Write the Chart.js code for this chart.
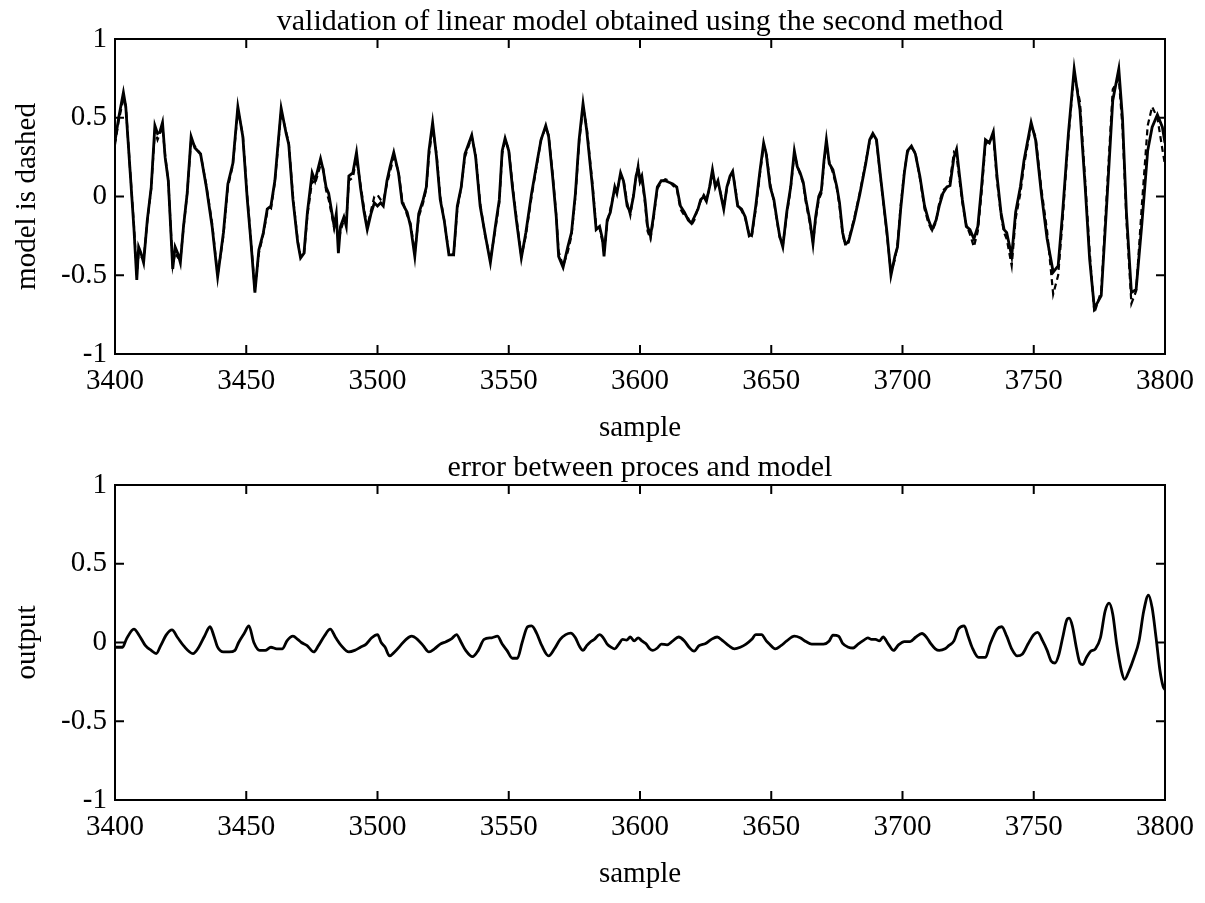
<!DOCTYPE html>
<html>
<head>
<meta charset="utf-8">
<script src="https://cdn.jsdelivr.net/npm/chart.js@4/dist/chart.umd.min.js"></script>
<style>
  html, body { margin: 0; padding: 0; background: #ffffff; }
  #wrap { position: relative; width: 1205px; height: 903px; background: #fff; }
  canvas { position: absolute; left: 0; }
</style>
</head>
<body>
<div id="wrap">
  <canvas id="c1" width="1205" height="450" style="top:0px"></canvas>
  <canvas id="c2" width="1205" height="453" style="top:450px"></canvas>
</div>
<script>
// ---------------- data ----------------
const topTitle = "validation of linear model obtained using the second method";
const bottomTitle = "error between proces and model";
const xAxisTitle = "sample";
const topYTitle = "model is dashed";
const bottomYTitle = "output";
const xTicks = [3400, 3450, 3500, 3550, 3600, 3650, 3700, 3750, 3800];
const yTicks = [-1, -0.5, 0, 0.5, 1];

// process (solid) and model (dashed) share the sample positions
const processX = [
  3400.0,3401.4,3403.2,3404.1,3405.8,3407.2,3408.3,3409.0,3409.9,3410.9,3412.3,3413.8,3415.2,3416.2,3417.1,3418.1,3419.1,3420.3,
  3422.0,3422.9,3424.1,3424.9,3426.1,3427.5,3429.0,3430.4,3432.6,3434.8,3437.0,3439.1,3441.3,3443.0,3444.9,3446.8,3448.7,3450.4,
  3451.7,3453.3,3454.8,3456.5,3458.0,3459.4,3460.9,3463.3,3465.2,3466.2,3467.8,3469.6,3470.7,3472.0,3473.3,3475.1,3476.2,3478.3,
  3479.3,3480.4,3481.4,3482.6,3483.5,3484.3,3485.1,3485.9,3487.2,3488.1,3489.1,3490.6,3492.0,3493.5,3494.9,3496.1,3497.5,3498.8,
  3500.0,3501.2,3502.2,3503.6,3504.8,3506.2,3508.0,3509.4,3511.3,3512.6,3514.2,3515.7,3517.4,3518.6,3519.6,3521.0,3522.5,3523.9,
  3525.4,3527.2,3529.0,3530.4,3531.9,3533.3,3535.9,3537.4,3539.1,3540.9,3543.0,3544.9,3546.4,3547.5,3548.6,3550.0,3551.4,3552.9,
  3554.8,3556.5,3558.7,3560.9,3562.3,3564.1,3565.2,3566.7,3568.1,3569.0,3570.7,3572.5,3573.9,3575.4,3576.8,3578.3,3579.7,3581.9,
  3583.3,3584.6,3585.7,3586.3,3587.5,3588.7,3590.4,3591.2,3592.6,3593.7,3595.1,3596.3,3597.5,3598.5,3599.3,3600.0,3600.7,3601.9,
  3602.9,3604.0,3605.1,3606.6,3608.1,3609.6,3611.0,3612.5,3614.0,3615.4,3616.9,3618.4,3619.6,3620.7,3622.1,3623.1,3624.3,3625.3,
  3626.5,3627.6,3628.7,3629.7,3630.9,3631.9,3633.1,3634.3,3635.3,3636.0,3637.2,3638.7,3640.1,3641.6,3642.6,3644.1,3645.6,3647.1,
  3648.1,3649.6,3651.0,3652.2,3653.2,3654.4,3655.9,3657.4,3658.8,3659.9,3661.0,3662.2,3663.2,3664.7,3665.9,3666.9,3668.1,3669.1,
  3670.1,3671.0,3672.1,3673.5,3675.0,3676.0,3677.2,3678.2,3679.4,3681.6,3683.8,3686.0,3687.5,3688.7,3690.1,3691.6,3693.4,3694.1,
  3695.6,3697.1,3698.1,3699.3,3700.7,3701.9,3703.4,3704.9,3706.6,3708.4,3709.9,3711.3,3712.8,3714.0,3715.4,3716.9,3718.1,3719.6,
  3720.6,3721.6,3722.8,3724.3,3725.7,3727.2,3728.7,3730.1,3731.6,3733.1,3734.6,3736.0,3737.5,3738.7,3739.7,3741.6,3743.1,3744.9,
  3746.3,3749.0,3750.7,3752.9,3755.1,3757.4,3759.3,3761.0,3763.2,3765.4,3767.6,3769.6,3771.3,3773.1,3775.7,3777.9,3780.1,3782.4,
  3783.8,3785.3,3787.2,3789.0,3791.2,3793.4,3795.1,3797.1,3799.0,3800.0
];
const processY = [
  0.35,0.50,0.66,0.57,0.15,-0.20,-0.53,-0.32,-0.36,-0.42,-0.15,0.06,0.45,0.40,0.41,0.47,0.25,0.10,
  -0.46,-0.32,-0.37,-0.42,-0.19,0.02,0.38,0.31,0.27,0.06,-0.19,-0.51,-0.23,0.08,0.21,0.57,0.38,-0.02,
  -0.27,-0.61,-0.34,-0.23,-0.08,-0.06,0.10,0.56,0.40,0.33,-0.02,-0.29,-0.39,-0.36,-0.10,0.15,0.10,0.24,
  0.17,0.06,0.02,-0.10,-0.19,-0.11,-0.36,-0.19,-0.13,-0.19,0.13,0.15,0.28,0.06,-0.10,-0.21,-0.11,-0.04,
  -0.06,-0.04,-0.06,0.10,0.19,0.28,0.15,-0.04,-0.10,-0.19,-0.38,-0.11,-0.02,0.06,0.29,0.47,0.25,-0.02,
  -0.15,-0.37,-0.37,-0.06,0.06,0.27,0.39,0.25,-0.06,-0.23,-0.42,-0.19,-0.02,0.29,0.37,0.29,0.06,-0.15,
  -0.39,-0.23,0.02,0.23,0.36,0.45,0.38,0.13,-0.13,-0.38,-0.45,-0.32,-0.23,0.02,0.36,0.59,0.42,0.06,
  -0.21,-0.19,-0.27,-0.38,-0.15,-0.10,0.06,0.02,0.15,0.10,-0.06,-0.10,0.00,0.13,0.18,0.10,0.13,-0.02,
  -0.19,-0.25,-0.13,0.06,0.10,0.10,0.09,0.08,0.06,-0.06,-0.10,-0.15,-0.17,-0.13,-0.08,-0.02,0.00,-0.03,
  0.06,0.17,0.06,0.10,0.00,-0.08,0.06,0.13,0.16,0.08,-0.06,-0.08,-0.13,-0.25,-0.24,-0.06,0.15,0.34,
  0.27,0.06,-0.02,-0.15,-0.25,-0.32,-0.10,0.06,0.29,0.19,0.15,0.09,-0.02,-0.15,-0.30,-0.13,0.00,0.04,
  0.23,0.36,0.21,0.17,0.06,-0.04,-0.23,-0.30,-0.29,-0.15,0.02,0.21,0.36,0.40,0.36,0.13,-0.13,-0.23,
  -0.50,-0.38,-0.32,-0.08,0.15,0.29,0.32,0.27,0.13,-0.06,-0.15,-0.21,-0.15,-0.06,0.02,0.06,0.07,0.25,
  0.30,0.15,-0.02,-0.19,-0.21,-0.27,-0.19,0.06,0.36,0.34,0.41,0.13,-0.10,-0.21,-0.23,-0.38,-0.10,0.06,
  0.23,0.47,0.36,0.02,-0.27,-0.48,-0.44,-0.10,0.40,0.81,0.55,0.06,-0.40,-0.71,-0.63,-0.02,0.61,0.81,
  0.50,-0.10,-0.61,-0.59,-0.17,0.29,0.44,0.52,0.44,0.34
];
const modelY = [
  0.33,0.48,0.62,0.58,0.16,-0.18,-0.50,-0.36,-0.38,-0.40,-0.16,0.05,0.42,0.36,0.40,0.44,0.26,0.10,
  -0.44,-0.36,-0.39,-0.40,-0.20,0.02,0.36,0.32,0.27,0.07,-0.17,-0.50,-0.25,0.06,0.20,0.55,0.39,0.00,
  -0.26,-0.60,-0.36,-0.24,-0.10,-0.08,0.09,0.54,0.41,0.34,0.00,-0.28,-0.38,-0.37,-0.12,0.10,0.08,0.20,
  0.18,0.04,-0.02,-0.12,-0.20,-0.15,-0.30,-0.22,-0.15,-0.16,0.10,0.12,0.24,0.08,-0.08,-0.19,-0.09,0.00,
  0.01,-0.02,-0.03,0.08,0.16,0.25,0.16,-0.02,-0.12,-0.17,-0.36,-0.13,-0.04,0.05,0.26,0.44,0.27,0.00,
  -0.15,-0.36,-0.37,-0.08,0.06,0.25,0.38,0.26,-0.04,-0.24,-0.40,-0.21,-0.04,0.27,0.36,0.30,0.08,-0.13,
  -0.38,-0.25,0.00,0.22,0.36,0.44,0.39,0.15,-0.12,-0.35,-0.44,-0.35,-0.25,0.00,0.34,0.57,0.44,0.08,
  -0.19,-0.20,-0.29,-0.36,-0.17,-0.08,0.05,0.03,0.13,0.11,-0.04,-0.12,0.01,0.12,0.20,0.09,0.12,-0.04,
  -0.22,-0.27,-0.15,0.05,0.09,0.11,0.10,0.07,0.05,-0.08,-0.12,-0.14,-0.18,-0.15,-0.07,-0.03,0.01,-0.02,
  0.05,0.15,0.07,0.09,0.01,-0.07,0.05,0.12,0.15,0.09,-0.05,-0.09,-0.14,-0.24,-0.25,-0.08,0.13,0.32,
  0.28,0.08,-0.03,-0.16,-0.26,-0.31,-0.12,0.05,0.27,0.20,0.14,0.08,-0.04,-0.17,-0.29,-0.15,-0.02,0.02,
  0.21,0.34,0.22,0.15,0.05,-0.06,-0.24,-0.31,-0.28,-0.14,0.03,0.22,0.35,0.39,0.35,0.12,-0.14,-0.25,
  -0.48,-0.40,-0.30,-0.06,0.16,0.28,0.31,0.28,0.12,-0.08,-0.17,-0.22,-0.16,-0.04,0.04,0.06,0.10,0.28,
  0.26,0.12,-0.04,-0.18,-0.24,-0.32,-0.22,0.02,0.33,0.36,0.38,0.10,-0.12,-0.23,-0.27,-0.44,-0.14,0.02,
  0.20,0.45,0.38,0.05,-0.22,-0.62,-0.50,-0.15,0.38,0.78,0.60,0.10,-0.35,-0.74,-0.60,0.04,0.68,0.75,
  0.44,-0.15,-0.68,-0.60,-0.05,0.45,0.57,0.50,0.30,0.20
];

// prediction error
const errorX = [
  3400.0,3402.9,3404.3,3407.2,3409.4,3411.6,3413.8,3415.7,3417.4,3419.6,3421.7,3423.9,3426.1,3429.7,3431.9,3434.1,3436.2,3437.7,
  3439.1,3441.3,3443.5,3445.7,3447.1,3449.3,3451.0,3452.9,3455.1,3457.2,3459.4,3461.6,3463.8,3465.5,3467.8,3469.6,3471.0,3473.2,
  3475.7,3477.5,3479.7,3482.0,3484.1,3486.2,3489.1,3491.3,3493.5,3495.7,3497.8,3500.0,3501.4,3502.9,3504.6,3506.5,3508.7,3510.9,
  3513.0,3515.2,3517.4,3519.6,3521.7,3523.9,3526.1,3528.3,3530.1,3531.9,3533.6,3536.2,3538.4,3540.6,3543.5,3545.7,3547.5,3549.3,
  3551.4,3553.3,3555.1,3557.2,3558.7,3560.6,3562.6,3565.2,3567.4,3569.6,3571.7,3573.6,3575.4,3576.8,3578.3,3579.7,3581.2,3582.6,
  3584.6,3586.0,3587.5,3589.0,3590.4,3591.9,3593.4,3594.9,3596.3,3597.8,3599.3,3600.7,3602.2,3603.7,3604.9,3606.6,3608.1,3610.3,
  3612.5,3614.7,3616.9,3618.7,3620.6,3622.5,3625.0,3627.2,3629.4,3631.6,3633.8,3636.0,3638.2,3640.4,3642.6,3644.1,3646.3,3648.1,
  3649.3,3651.5,3653.7,3655.9,3658.8,3661.0,3663.2,3665.4,3667.6,3669.9,3672.1,3673.5,3675.7,3677.2,3679.4,3681.2,3683.1,3685.3,
  3686.8,3688.2,3689.7,3691.2,3692.6,3694.6,3696.6,3698.5,3700.7,3702.9,3705.1,3707.4,3709.3,3710.7,3712.5,3714.0,3716.2,3717.6,
  3719.6,3721.3,3723.5,3725.0,3726.5,3729.0,3731.6,3733.4,3736.0,3737.8,3739.7,3741.6,3743.7,3745.6,3747.8,3750.0,3751.5,3753.4,
  3755.1,3756.6,3758.1,3759.6,3761.0,3762.5,3763.5,3764.7,3766.2,3767.6,3768.7,3770.1,3771.6,3773.5,3775.4,3777.2,3778.7,3780.1,
  3781.6,3783.4,3784.6,3786.3,3788.2,3790.1,3791.9,3793.7,3795.1,3796.6,3798.1,3799.3,3800.0
];
const errorY = [
  -0.03,-0.03,0.02,0.085,0.04,-0.02,-0.05,-0.07,-0.02,0.05,0.08,0.03,-0.02,-0.07,-0.03,0.04,0.10,0.04,
  -0.03,-0.06,-0.06,-0.05,0.00,0.06,0.105,0.00,-0.05,-0.05,-0.03,-0.04,-0.04,0.01,0.04,0.02,0.00,-0.02,
  -0.06,-0.02,0.04,0.085,0.03,-0.02,-0.06,-0.05,-0.03,-0.01,0.03,0.05,0.00,-0.03,-0.085,-0.06,-0.02,0.02,
  0.04,0.02,-0.02,-0.06,-0.04,-0.01,0.005,0.025,0.05,0.00,-0.05,-0.09,-0.05,0.02,0.03,0.04,-0.01,-0.05,
  -0.10,-0.10,0.00,0.10,0.105,0.06,-0.02,-0.085,-0.04,0.02,0.05,0.06,0.03,-0.02,-0.05,-0.02,0.005,0.02,
  0.05,0.03,-0.01,-0.03,-0.04,-0.01,0.02,0.015,0.035,0.01,0.03,0.01,-0.006,-0.04,-0.05,-0.035,-0.01,-0.015,
  0.01,0.035,0.01,-0.03,-0.055,-0.02,-0.006,0.02,0.035,0.01,-0.02,-0.04,-0.03,-0.01,0.02,0.05,0.05,0.01,
  -0.01,-0.04,-0.02,0.01,0.04,0.03,0.006,-0.01,-0.01,-0.01,0.01,0.047,0.04,-0.006,-0.03,-0.035,-0.01,0.015,
  0.03,0.02,0.02,0.01,0.035,-0.01,-0.05,-0.015,0.006,0.006,0.035,0.057,0.03,-0.006,-0.04,-0.05,-0.04,-0.02,
  0.01,0.085,0.106,0.04,-0.03,-0.095,-0.095,-0.01,0.085,0.10,0.04,-0.04,-0.085,-0.075,-0.01,0.05,0.064,0.01,
  -0.05,-0.117,-0.13,-0.075,0.03,0.14,0.155,0.106,-0.03,-0.13,-0.14,-0.095,-0.057,-0.04,0.03,0.20,0.25,0.18,
  -0.01,-0.18,-0.234,-0.18,-0.095,0.01,0.20,0.30,0.22,0.03,-0.18,-0.28,-0.30
];

// ---------------- styling / helpers ----------------
const SERIF = "'Liberation Serif', 'Times New Roman', 'DejaVu Serif', serif";
const FRAME = { left: 115, right: 1165 };

const toPoints = (xs, ys) => xs.map((x, i) => ({ x: x, y: ys[i] }));

// MATLAB-like frame with inward ticks on all four sides
const framePlugin = {
  id: 'matlabFrame',
  afterDatasetsDraw(chart) {
    const { ctx, chartArea: a, scales } = chart;
    const xs = scales.x, ys = scales.y;
    const L = 9;
    ctx.save();
    ctx.strokeStyle = '#000';
    ctx.lineWidth = 2;
    ctx.strokeRect(a.left, a.top, a.right - a.left, a.bottom - a.top);
    ctx.beginPath();
    xs.ticks.forEach(t => {
      const px = xs.getPixelForValue(t.value);
      ctx.moveTo(px, a.bottom); ctx.lineTo(px, a.bottom - L);
      ctx.moveTo(px, a.top); ctx.lineTo(px, a.top + L);
    });
    ys.ticks.forEach(t => {
      const py = ys.getPixelForValue(t.value);
      ctx.moveTo(a.left, py); ctx.lineTo(a.left + L, py);
      ctx.moveTo(a.right, py); ctx.lineTo(a.right - L, py);
    });
    ctx.stroke();
    ctx.restore();
  }
};

function makeOptions(opts) {
  return {
    responsive: false,
    animation: false,
    devicePixelRatio: 1,
    layout: { padding: { left: 0, right: 1205 - FRAME.right, top: 0, bottom: 0 } },
    plugins: {
      legend: { display: false },
      tooltip: { enabled: false },
      title: {
        display: true,
        fullSize: false,
        text: opts.title,
        color: '#000',
        font: { family: SERIF, size: 30, weight: 'normal', lineHeight: 1.0 },
        padding: { top: opts.titleTop, bottom: 2 }
      }
    },
    scales: {
      x: {
        type: 'linear',
        min: xTicks[0], max: xTicks[xTicks.length - 1],
        afterBuildTicks(s) { s.ticks = xTicks.map(v => ({ value: v })); },
        afterFit(s) { s.height = opts.xAxisHeight; },
        grid: { display: false, drawTicks: false },
        border: { display: false },
        ticks: {
          color: '#000', padding: 10, maxRotation: 0, autoSkip: false,
          font: { family: SERIF, size: 29 },
          callback: v => String(v)
        },
        title: {
          display: true, text: xAxisTitle, color: '#000',
          font: { family: SERIF, size: 29 },
          padding: { top: 0, bottom: opts.xTitleBottom }
        }
      },
      y: {
        type: 'linear',
        min: -1, max: 1,
        afterBuildTicks(s) { s.ticks = yTicks.map(v => ({ value: v })); },
        afterFit(s) { s.width = FRAME.left; },
        grid: { display: false, drawTicks: false },
        border: { display: false },
        ticks: {
          color: '#000', padding: 8,
          font: { family: SERIF, size: 29 },
          callback: v => String(v)
        },
        title: {
          display: true, text: opts.yTitle, color: '#000',
          font: { family: SERIF, size: 29 },
          padding: { top: 10, bottom: 0 }
        }
      }
    }
  };
}

new Chart(document.getElementById('c1'), {
  type: 'line',
  data: {
    datasets: [
      {
        label: 'model',
        data: toPoints(processX, modelY),
        borderColor: '#000', borderWidth: 2.2, borderDash: [6, 4],
        pointRadius: 0, tension: 0, fill: false
      },
      {
        label: 'process',
        data: toPoints(processX, processY),
        borderColor: '#000', borderWidth: 2.8,
        pointRadius: 0, tension: 0, fill: false
      }
    ]
  },
  options: makeOptions({ title: topTitle, titleTop: 7, xAxisHeight: 96, xTitleBottom: 4, yTitle: topYTitle }),
  plugins: [framePlugin]
});

new Chart(document.getElementById('c2'), {
  type: 'line',
  data: {
    datasets: [
      {
        label: 'error',
        data: toPoints(errorX, errorY),
        borderColor: '#000', borderWidth: 2.8,
        pointRadius: 0, cubicInterpolationMode: 'monotone', fill: false
      }
    ]
  },
  options: makeOptions({ title: bottomTitle, titleTop: 3, xAxisHeight: 103, xTitleBottom: 11, yTitle: bottomYTitle }),
  plugins: [framePlugin]
});
</script>
</body>
</html>
